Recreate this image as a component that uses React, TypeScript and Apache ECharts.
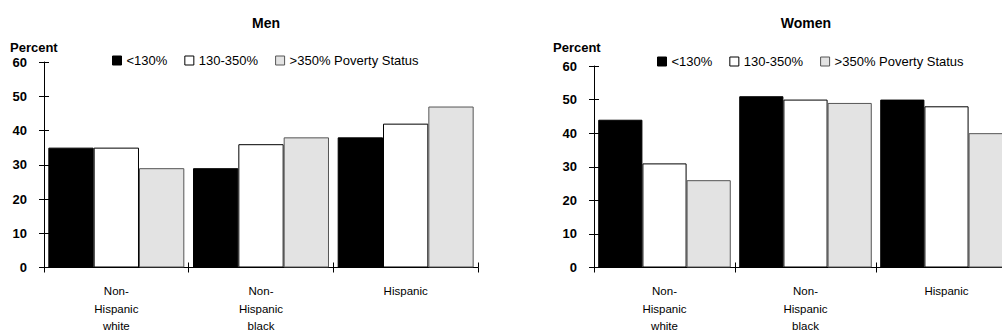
import React, { useEffect, useRef } from "react";
import * as echarts from "echarts";

const categories = ["Non-\nHispanic\nwhite", "Non-\nHispanic\nblack", "Hispanic"];
const seriesNames = ["<130%", "130-350%", ">350% Poverty Status"];
const menLow = [35, 29, 38];
const menMid = [35, 36, 42];
const menHigh = [29, 38, 47];
const womenLow = [44, 51, 50];
const womenMid = [31, 50, 48];
const womenHigh = [26, 49, 40];
const yMin = 0;
const yMax = 60;
const yStep = 10;

const FONT = "'Liberation Sans', Arial, Helvetica, sans-serif";

const barStyles = [
  { color: "#000000", borderColor: "#000000", borderWidth: 1 },
  { color: "#ffffff", borderColor: "#000000", borderWidth: 1 },
  { color: "#e3e3e3", borderColor: "#555555", borderWidth: 1 },
];

export default function App() {
  const ref = useRef<HTMLDivElement>(null);
  useEffect(() => {
    if (!ref.current) return;
    const chart = echarts.init(ref.current, null, { renderer: "svg" });
    const grids = [
      { left: 44, top: 62, width: 434, height: 210 },
      { left: 594, top: 66, width: 423, height: 205 },
    ];
    const makeY = (gi: number, inside: boolean) => ({
      type: "value",
      gridIndex: gi,
      position: "left",
      offset: 0,
      min: yMin,
      max: yMax,
      interval: yStep,
      axisLine: { show: !inside, lineStyle: { color: "#000", width: 1 } },
      axisTick: { show: true, inside, length: 5, lineStyle: { color: "#000", width: 1 } },
      splitLine: { show: false },
      axisLabel: {
        show: !inside,
        margin: 17,
        color: "#000",
        fontSize: 13,
        fontWeight: "bold",
        fontFamily: FONT,
        padding: [4, 0, 0, 0],
      },
    });
    const makeX = (gi: number, inside: boolean) => ({
      type: "category",
      gridIndex: gi,
      position: "bottom",
      offset: 0,
      data: categories,
      boundaryGap: true,
      axisLine: { show: !inside, lineStyle: { color: "#000", width: 1 } },
      axisTick: { show: true, inside, length: 5, lineStyle: { color: "#000", width: 1 } },
      splitLine: { show: false },
      axisLabel: {
        show: !inside,
        margin: 15,
        color: "#000",
        fontSize: 11.5,
        lineHeight: 17.5,
        fontFamily: FONT,
        interval: 0,
      },
    });
    const panels = [
      [menLow, menMid, menHigh],
      [womenLow, womenMid, womenHigh],
    ];
    const series: any[] = [];
    panels.forEach((p, gi) => {
      p.forEach((vals, si) => {
        series.push({
          type: "bar",
          name: seriesNames[si],
          xAxisIndex: gi * 2,
          yAxisIndex: gi * 2,
          data: vals,
          barGap: "0%",
          barCategoryGap: "6%",
          itemStyle: barStyles[si],
          emphasis: { disabled: true },
        });
      });
    });
    const legendBase = {
      data: seriesNames,
      icon: "rect",
      itemWidth: 9,
      itemHeight: 9,
      itemGap: 17,
      selectedMode: false,
      itemStyle: { borderWidth: 1 },
      textStyle: { color: "#000", fontSize: 13, fontFamily: FONT },
    };
    const textEl = (text: string, x: number, y: number, size: number, align: string) => ({
      type: "text",
      x,
      y,
      style: {
        text,
        fill: "#000",
        fontSize: size,
        fontWeight: "bold",
        fontFamily: FONT,
        align,
        verticalAlign: "middle",
      },
    });
    chart.setOption({
      animation: false,
      backgroundColor: "#ffffff",
      grid: grids,
      xAxis: [makeX(0, false), makeX(0, true), makeX(1, false), makeX(1, true)],
      yAxis: [makeY(0, false), makeY(0, true), makeY(1, false), makeY(1, true)],
      legend: [
        { ...legendBase, left: 107, top: 49 },
        { ...legendBase, left: 652, top: 50 },
      ],
      series,
      graphic: [
        textEl("Men", 266, 23, 14, "center"),
        textEl("Women", 806, 23, 14, "center"),
        textEl("Percent", 10, 47, 13, "left"),
        textEl("Percent", 553, 47, 13, "left"),
      ],
    });
    return () => chart.dispose();
  }, []);
  return (
    <div
      style={{
        position: "absolute",
        left: 0,
        top: 0,
        width: 1002,
        height: 335,
        overflow: "hidden",
        background: "#fff",
      }}
    >
      <div ref={ref} style={{ width: 1030, height: 335 }} />
    </div>
  );
}
